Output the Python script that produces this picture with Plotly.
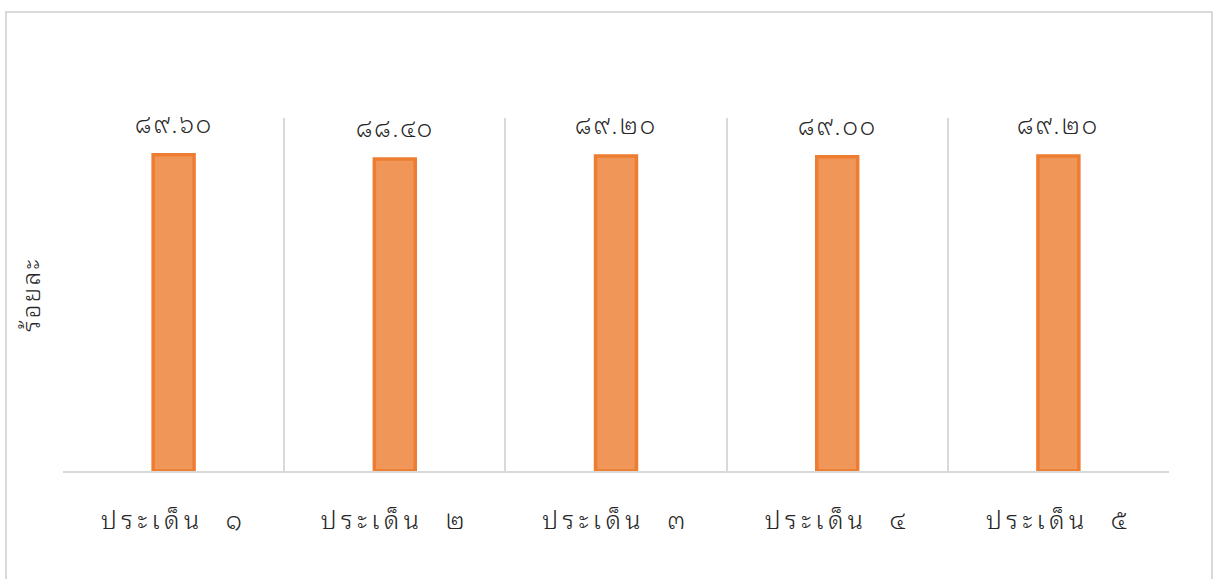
import plotly.graph_objects as go

categories = ["ประเด็น  ๑", "ประเด็น  ๒", "ประเด็น  ๓", "ประเด็น  ๔", "ประเด็น  ๕"]
values = [89.60, 88.40, 89.20, 89.00, 89.20]
value_labels = ["๘๙.๖๐", "๘๘.๔๐", "๘๙.๒๐", "๘๙.๐๐", "๘๙.๒๐"]
y_title = "ร้อยละ"

W, H = 1216, 579
L, R, T, B = 63, 47, 118, 108
pw, ph = W - L - R, H - T - B
FONT = "Noto Sans Thai Looped, Noto Serif Thai, serif"
WEIGHT = 300


def spaced(s, px):
    return f'<span style="letter-spacing:{px}px">{s}</span>'


fig = go.Figure(
    go.Bar(
        x=categories,
        y=values,
        width=0.185,
        marker=dict(color="#F19659", line=dict(color="#ED7D31", width=3.5)),
        hoverinfo="skip",
    )
)

for cat, val, lab in zip(categories, values, value_labels):
    fig.add_annotation(
        x=cat, y=val, text=spaced(lab, 2), showarrow=False,
        yanchor="bottom", yshift=12,
        font=dict(size=24, color="#262626", weight=WEIGHT),
    )

# outer frame around the whole chart
fig.add_shape(
    type="rect", xref="paper", yref="paper",
    x0=(6 - L) / pw, x1=(1212 - L) / pw,
    y0=(T + ph - 582) / ph, y1=(T + ph - 12) / ph,
    line=dict(color="#D9D9D9", width=2), fillcolor="rgba(0,0,0,0)", layer="below",
)

fig.update_layout(
    width=W, height=H,
    margin=dict(l=L, r=R, t=T, b=B),
    paper_bgcolor="white", plot_bgcolor="white",
    showlegend=False,
    font=dict(family=FONT, color="#262626", weight=WEIGHT),
    xaxis=dict(
        type="category", tickson="boundaries",
        showgrid=True, gridcolor="#D9D9D9", gridwidth=1.5,
        showline=True, linecolor="#D9D9D9", linewidth=2,
        ticks="", tickfont=dict(size=25, weight=WEIGHT), ticklabelstandoff=26,
        tickvals=categories, ticktext=[spaced(c, 4.5) for c in categories],
    ),
    yaxis=dict(
        range=[0, 100], showgrid=False, showticklabels=False, ticks="",
        zeroline=False, showline=False,
        title=dict(text=spaced(y_title, 2.5), font=dict(size=24, weight=WEIGHT), standoff=14),
    ),
)

fig.write_html("out.html")
